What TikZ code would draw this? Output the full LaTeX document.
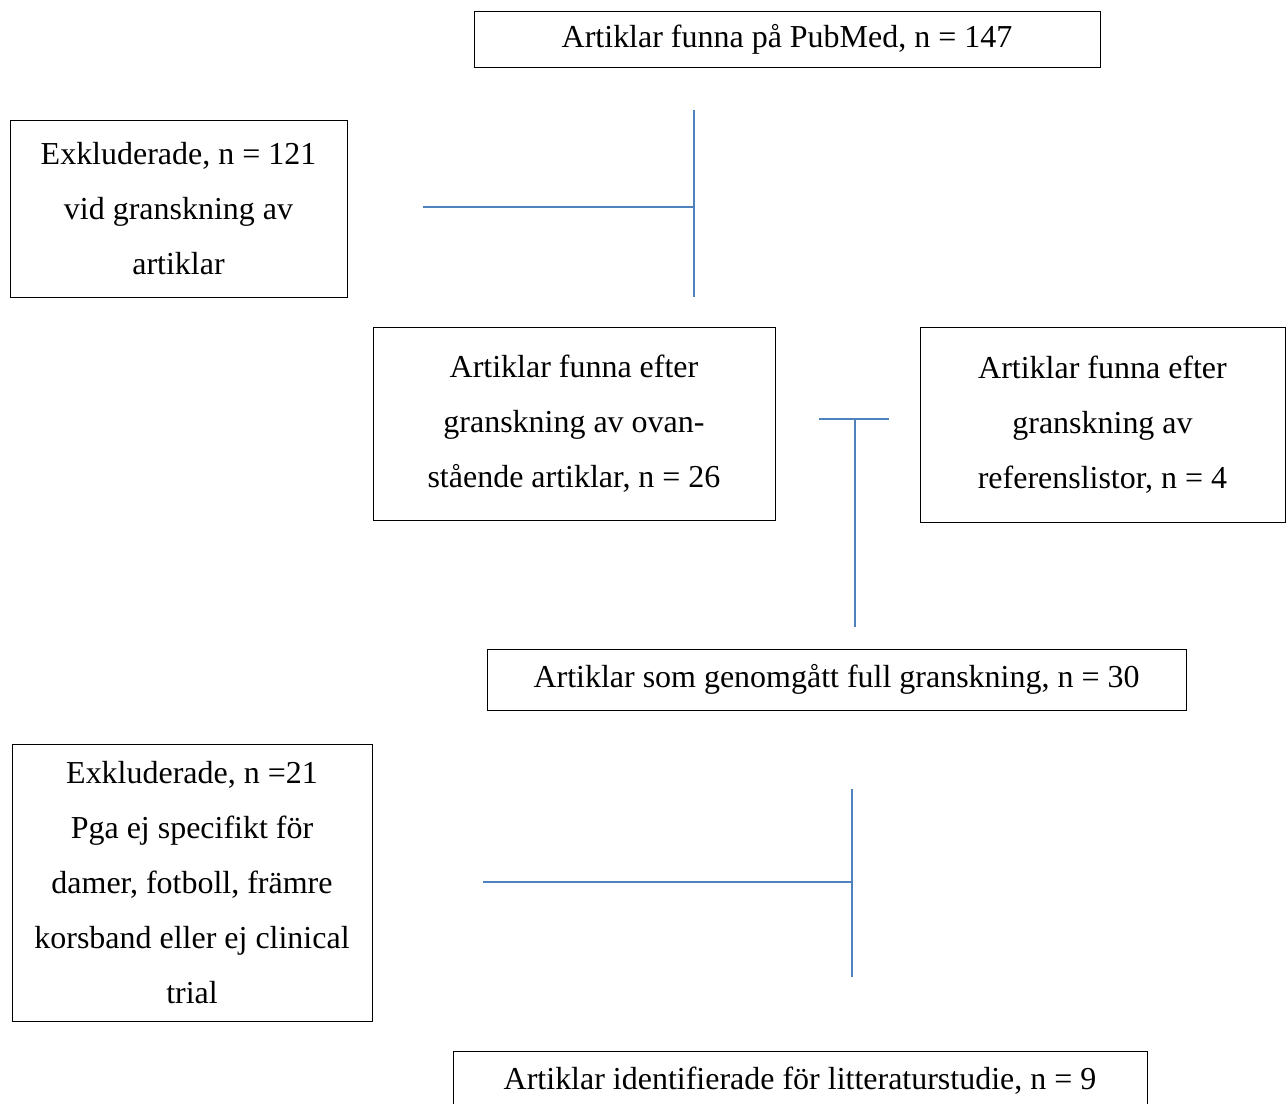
\documentclass[tikz,border=0pt]{standalone}
\usepackage{fontspec}
\setmainfont{Liberation Serif}
\usepackage{tikz}
\definecolor{linjeblå}{HTML}{4F81BD}

\begin{document}
\begin{tikzpicture}[x=0.02cm, y=-0.02cm,
    ruta/.style = {draw, thin, inner sep=0pt, align=center, font=\fontsize{18.2}{31.2}\selectfont},
    linje/.style = {draw=linjeblå, line width=0.8pt}]
        \useasboundingbox (0,0) rectangle (1288,1104);
        % rutor
        \node[ruta, minimum width=626*0.02cm, minimum height=56*0.02cm] (pubmed) at (787,39) {Artiklar funna på PubMed, n = 147};
        \node[ruta, minimum width=337*0.02cm, minimum height=177*0.02cm] (exkl1) at (178.5,208.5) {Exkluderade, n = 121\\vid granskning av\\artiklar};
        \node[ruta, minimum width=402*0.02cm, minimum height=193*0.02cm] (ovan) at (574,423.5) {Artiklar funna efter\\granskning av ovan-\\stående artiklar, n = 26};
        \node[ruta, minimum width=365*0.02cm, minimum height=195*0.02cm] (ref) at (1102.5,424.5) {Artiklar funna efter\\granskning av\\referenslistor, n = 4};
        \node[ruta, minimum width=699*0.02cm, minimum height=61*0.02cm] (full) at (836.5,679.5) {Artiklar som genomgått full granskning, n = 30};
        \node[ruta, minimum width=360*0.02cm, minimum height=277*0.02cm] (exkl2) at (192,882.5) {Exkluderade, n =21\\Pga ej specifikt för\\damer, fotboll, främre\\korsband eller ej clinical\\trial};
        \node[ruta, minimum width=694*0.02cm, minimum height=60*0.02cm] (slut) at (800,1081) {Artiklar identifierade för litteraturstudie, n = 9};
        % linjer
        \coordinate (a1) at (694,110);
        \coordinate (a2) at (694,297);
        \coordinate (a3) at (423,207);
        \coordinate (a4) at (694,207);
        \draw[linje] (a1) -- (a2);
        \draw[linje] (a3) -- (a4);
        \coordinate (b1) at (819,419);
        \coordinate (b2) at (889,419);
        \coordinate (b3) at (855,419);
        \coordinate (b4) at (855,627);
        \draw[linje] (b1) -- (b2);
        \draw[linje] (b3) -- (b4);
        \coordinate (c1) at (852,789);
        \coordinate (c2) at (852,977);
        \coordinate (c3) at (483,882);
        \coordinate (c4) at (852,882);
        \draw[linje] (c1) -- (c2);
        \draw[linje] (c3) -- (c4);
\end{tikzpicture}
\end{document}
